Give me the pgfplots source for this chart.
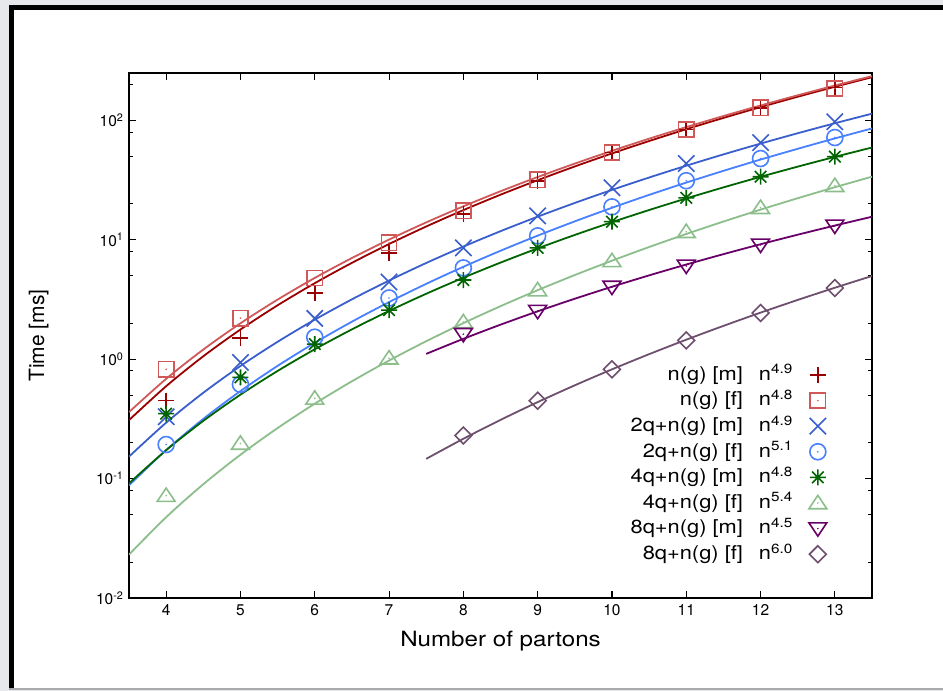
\documentclass[border=0pt]{standalone}
\usepackage{fontspec}
\setmainfont{TeX Gyre Heros}[FakeStretch=1.15]
\newfontfamily\plainfont{TeX Gyre Heros}
\usepackage{pgfplots}
\pgfplotsset{compat=1.18}
\usetikzlibrary{plotmarks}

\definecolor{cA}{RGB}{155,0,0}
\definecolor{cB}{RGB}{208,88,88}
\definecolor{cC}{RGB}{58,95,205}
\definecolor{cD}{RGB}{72,128,255}
\definecolor{cE}{RGB}{0,100,0}
\definecolor{cF}{RGB}{140,190,140}
\definecolor{cG}{RGB}{104,0,104}
\definecolor{cH}{RGB}{110,80,110}
\definecolor{bggray}{RGB}{230,232,235}
\definecolor{botgray}{RGB}{170,170,170}

\pgfdeclareplotmark{pl}{%
  \pgfpathmoveto{\pgfqpoint{0pt}{\pgfplotmarksize}}\pgfpathlineto{\pgfqpoint{0pt}{-\pgfplotmarksize}}%
  \pgfpathmoveto{\pgfqpoint{\pgfplotmarksize}{0pt}}\pgfpathlineto{\pgfqpoint{-\pgfplotmarksize}{0pt}}%
  \pgfusepathqstroke}
\pgfdeclareplotmark{xx}{%
  \pgfpathmoveto{\pgfqpoint{1.02\pgfplotmarksize}{1.02\pgfplotmarksize}}\pgfpathlineto{\pgfqpoint{-1.02\pgfplotmarksize}{-1.02\pgfplotmarksize}}%
  \pgfpathmoveto{\pgfqpoint{1.02\pgfplotmarksize}{-1.02\pgfplotmarksize}}\pgfpathlineto{\pgfqpoint{-1.02\pgfplotmarksize}{1.02\pgfplotmarksize}}%
  \pgfusepathqstroke}
\pgfdeclareplotmark{sqdot}{%
  \pgfpathrectangle{\pgfqpoint{-0.95\pgfplotmarksize}{-0.95\pgfplotmarksize}}{\pgfqpoint{1.9\pgfplotmarksize}{1.9\pgfplotmarksize}}%
  \pgfusepathqstroke
  \pgfpathcircle{\pgfpointorigin}{0.9pt}\pgfusepathqfill}
\pgfdeclareplotmark{circdot}{%
  \pgfpathcircle{\pgfpointorigin}{1.0\pgfplotmarksize}\pgfusepathqstroke
  \pgfpathcircle{\pgfpointorigin}{0.9pt}\pgfusepathqfill}
\pgfdeclareplotmark{tridot}{%
  \pgfpathmoveto{\pgfqpoint{0pt}{0.95\pgfplotmarksize}}%
  \pgfpathlineto{\pgfqpoint{-1.12\pgfplotmarksize}{-0.72\pgfplotmarksize}}%
  \pgfpathlineto{\pgfqpoint{1.12\pgfplotmarksize}{-0.72\pgfplotmarksize}}%
  \pgfpathclose\pgfusepathqstroke
  \pgfpathcircle{\pgfpointorigin}{0.9pt}\pgfusepathqfill}
\pgfdeclareplotmark{itridot}{%
  \pgfpathmoveto{\pgfqpoint{0pt}{-0.95\pgfplotmarksize}}%
  \pgfpathlineto{\pgfqpoint{-1.12\pgfplotmarksize}{0.72\pgfplotmarksize}}%
  \pgfpathlineto{\pgfqpoint{1.12\pgfplotmarksize}{0.72\pgfplotmarksize}}%
  \pgfpathclose\pgfusepathqstroke
  \pgfpathcircle{\pgfpointorigin}{0.9pt}\pgfusepathqfill}
\pgfdeclareplotmark{dmd}{%
  \pgfpathmoveto{\pgfqpoint{0pt}{1.05\pgfplotmarksize}}%
  \pgfpathlineto{\pgfqpoint{1.05\pgfplotmarksize}{0pt}}%
  \pgfpathlineto{\pgfqpoint{0pt}{-1.05\pgfplotmarksize}}%
  \pgfpathlineto{\pgfqpoint{-1.05\pgfplotmarksize}{0pt}}%
  \pgfpathclose\pgfusepathqstroke}
\pgfdeclareplotmark{star8}{%
  \pgfpathmoveto{\pgfqpoint{0pt}{1.0\pgfplotmarksize}}\pgfpathlineto{\pgfqpoint{0pt}{-1.0\pgfplotmarksize}}%
  \pgfpathmoveto{\pgfqpoint{1.0\pgfplotmarksize}{0pt}}\pgfpathlineto{\pgfqpoint{-1.0\pgfplotmarksize}{0pt}}%
  \pgfpathmoveto{\pgfqpoint{0.72\pgfplotmarksize}{0.72\pgfplotmarksize}}\pgfpathlineto{\pgfqpoint{-0.72\pgfplotmarksize}{-0.72\pgfplotmarksize}}%
  \pgfpathmoveto{\pgfqpoint{0.72\pgfplotmarksize}{-0.72\pgfplotmarksize}}\pgfpathlineto{\pgfqpoint{-0.72\pgfplotmarksize}{0.72\pgfplotmarksize}}%
  \pgfusepathqstroke}

\newcommand{\lab}[2]{\makebox[103pt][r]{#1}\hspace{16pt}n\textsuperscript{#2}}

\begin{document}
\begin{tikzpicture}
\useasboundingbox (0pt,0pt) rectangle (943pt,691pt);
\fill[bggray] (0pt,0pt) rectangle (943pt,691pt);
\fill[white] (9pt,3pt) rectangle (943pt,686pt);
\fill[black] (9pt,681pt) rectangle (943pt,686pt);
\fill[black] (9pt,3pt) rectangle (14pt,686pt);
\fill[botgray] (9pt,0.5pt) rectangle (943pt,3pt);
\begin{axis}[
  at={(129pt,93pt)}, anchor=south west,
  width=743pt, height=525pt, scale only axis,
  xmin=3.5, xmax=13.5, ymin=0.01, ymax=250,
  ymode=log,
  xtick={4,5,6,7,8,9,10,11,12,13},
  xticklabels={4,5,6,7,8,9,10,11,12,13},
  ytick={0.01,0.1,1,10,100},
  yticklabels={10\textsuperscript{-2},10\textsuperscript{-1},10\textsuperscript{0},10\textsuperscript{1},10\textsuperscript{2}},
  minor ytick={0.02,0.05,0.08,0.2,0.5,0.8,2,5,8,20,50,80,200},
  tick align=inside,
  major tick length=7pt, minor tick length=4pt,
  every tick/.style={black, line width=1.1pt},
  axis line style={line width=1.4pt},
  ticklabel style={font=\plainfont\fontsize{15.5}{18}\selectfont},
  xticklabel style={yshift=-3pt},
  yticklabel style={xshift=-2pt},
  xlabel={Number of partons},
  ylabel={Time [ms]},
  xlabel style={font=\fontsize{21}{25}\selectfont, at={(axis description cs:0.5,-0.0933)}, anchor=base},
  ylabel style={font=\plainfont\fontsize{21}{25}\selectfont, at={(axis description cs:-0.1144,0.5)}, anchor=base},
  legend plot pos=right,
  legend cell align=right,
  legend style={at={(axis description cs:0.9435,0.4476)}, anchor=north east, draw=none, fill=none,
    font=\fontsize{19}{22}\selectfont, row sep=6.1pt, column sep=14pt,
    nodes={inner ysep=0pt, text height=15pt, text depth=4.5pt}},
  mark size=8pt,
]
% fitted curves
\addplot[cA, line width=1.8pt, smooth, forget plot] coordinates {(3.5,0.3091)(4,0.5946)(4.5,1.0590)(5,1.7746)(5.5,2.8309)(6,4.3357)(6.5,6.4189)(7,9.2283)(7.5,12.941)(8,17.753)(8.5,23.896)(9,31.614)(9.5,41.207)(10,52.98)(10.5,67.28)(11,84.53)(11.5,105.10)(12,129.46)(12.5,158.12)(13,191.63)(13.5,230.57)};
\addplot[cB, line width=1.8pt, smooth, forget plot] coordinates {(3.5,0.3610)(4,0.6853)(4.5,1.2061)(5,1.9999)(5.5,3.1603)(6,4.7985)(6.5,7.0458)(7,10.056)(7.5,14.005)(8,19.090)(8.5,25.540)(9,33.597)(9.5,43.553)(10,55.71)(10.5,70.41)(11,88.04)(11.5,108.98)(12,133.66)(12.5,162.60)(13,196.29)(13.5,235.29)};
\addplot[cC, line width=1.8pt, smooth, forget plot] coordinates {(3.5,0.15294)(4,0.29417)(4.5,0.52395)(5,0.87795)(5.5,1.4005)(6,2.1452)(6.5,3.1755)(7,4.5657)(7.5,6.4027)(8,8.7833)(8.5,11.822)(9,15.641)(9.5,20.389)(10,26.214)(10.5,33.292)(11,41.815)(11.5,51.99)(12,64.05)(12.5,78.23)(13,94.81)(13.5,114.07)};
\addplot[cD, line width=1.8pt, smooth, forget plot] coordinates {(3.5,0.08781)(4,0.17350)(4.5,0.31635)(5,0.54141)(5.5,0.88033)(6,1.3721)(6.5,2.0638)(7,3.0116)(7.5,4.2817)(8,5.9504)(8.5,8.1066)(9,10.850)(9.5,14.294)(10,18.571)(10.5,23.818)(11,30.194)(11.5,37.878)(12,47.07)(12.5,57.94)(13,70.79)(13.5,85.81)};
\addplot[cE, line width=1.8pt, smooth, forget plot] coordinates {(3.5,0.09116)(4,0.17306)(4.5,0.30460)(5,0.50507)(5.5,0.79810)(6,1.2118)(6.5,1.7795)(7,2.5397)(7.5,3.5366)(8,4.8211)(8.5,6.4503)(9,8.4854)(9.5,10.999)(10,14.072)(10.5,17.784)(11,22.234)(11.5,27.517)(12,33.758)(12.5,41.065)(13,49.57)(13.5,59.42)};
\addplot[cF, line width=1.8pt, smooth, forget plot] coordinates {(3.5,0.02310)(4,0.04751)(4.5,0.08975)(5,0.15857)(5.5,0.26524)(6,0.42434)(6.5,0.65377)(7,0.97548)(7.5,1.4158)(8,2.0062)(8.5,2.7834)(9,3.7894)(9.5,5.0749)(10,6.6943)(10.5,8.7124)(11,11.200)(11.5,14.240)(12,17.918)(12.5,22.337)(13,27.603)(13.5,33.845)};
\addplot[cG, line width=1.8pt, smooth, forget plot] coordinates {(7.5,1.1091)(8,1.4829)(8.5,1.9481)(9,2.5194)(9.5,3.2134)(10,4.0480)(10.5,5.0418)(11,6.2160)(11.5,7.5923)(12,9.1948)(12.5,11.049)(13,13.181)(13.5,15.622)};
\addplot[cH, line width=1.8pt, smooth, forget plot] coordinates {(7.5,0.14650)(8,0.21573)(8.5,0.31040)(9,0.43737)(9.5,0.60495)(10,0.82302)(10.5,1.1029)(11,1.4581)(11.5,1.9037)(12,2.4575)(12.5,3.1396)(13,3.9724)(13.5,4.9820)};
% measured points
\addplot[cA, only marks, mark=pl, mark options={line width=1.6pt}] coordinates {(4,0.45)(5,1.5)(6,3.59)(7,7.8)(8,16.5)(9,31.3)(10,53.8)(11,84)(12,128)(13,189)};
\addlegendentry{\lab{n(g) [m]}{4.9}}
\addplot[cB, only marks, mark=sqdot, mark options={line width=1.6pt}] coordinates {(4,0.824)(5,2.21)(6,4.8)(7,9.44)(8,17.5)(9,31.9)(10,53.8)(11,84)(12,128)(13,185)};
\addlegendentry{\lab{n(g) [f]}{4.8}}
\addplot[cC, only marks, mark=xx, mark options={line width=1.6pt}] coordinates {(4,0.33)(5,0.94)(6,2.2)(7,4.44)(8,8.57)(9,15.9)(10,27.3)(11,43.6)(12,65.3)(13,97.6)};
\addlegendentry{\lab{2q+n(g) [m]}{4.9}}
\addplot[cD, only marks, mark=circdot, mark options={line width=1.6pt}] coordinates {(4,0.193)(5,0.616)(6,1.53)(7,3.26)(8,5.82)(9,10.8)(10,18.9)(11,31.3)(12,48)(13,72)};
\addlegendentry{\lab{2q+n(g) [f]}{5.1}}
\addplot[cE, only marks, mark=star8, mark options={line width=1.6pt}] coordinates {(4,0.35)(5,0.706)(6,1.34)(7,2.58)(8,4.61)(9,8.57)(10,14.2)(11,22.5)(12,33.8)(13,49.8)};
\addlegendentry{\lab{4q+n(g) [m]}{4.8}}
\addplot[cF, only marks, mark=tridot, mark options={line width=1.6pt}] coordinates {(4,0.072)(5,0.197)(6,0.47)(7,1.02)(8,2.05)(9,3.8)(10,6.67)(11,11.7)(12,18.6)(13,28.4)};
\addlegendentry{\lab{4q+n(g) [f]}{5.4}}
\addplot[cG, only marks, mark=itridot, mark options={line width=1.6pt}] coordinates {(8,1.62)(9,2.53)(10,4.03)(11,6.05)(12,9.08)(13,13.1)};
\addlegendentry{\lab{8q+n(g) [m]}{4.5}}
\addplot[cH, only marks, mark=dmd, mark options={line width=1.6pt}] coordinates {(8,0.23)(9,0.45)(10,0.824)(11,1.44)(12,2.44)(13,3.95)};
\addlegendentry{\lab{8q+n(g) [f]}{6.0}}
\end{axis}
\end{tikzpicture}
\end{document}
